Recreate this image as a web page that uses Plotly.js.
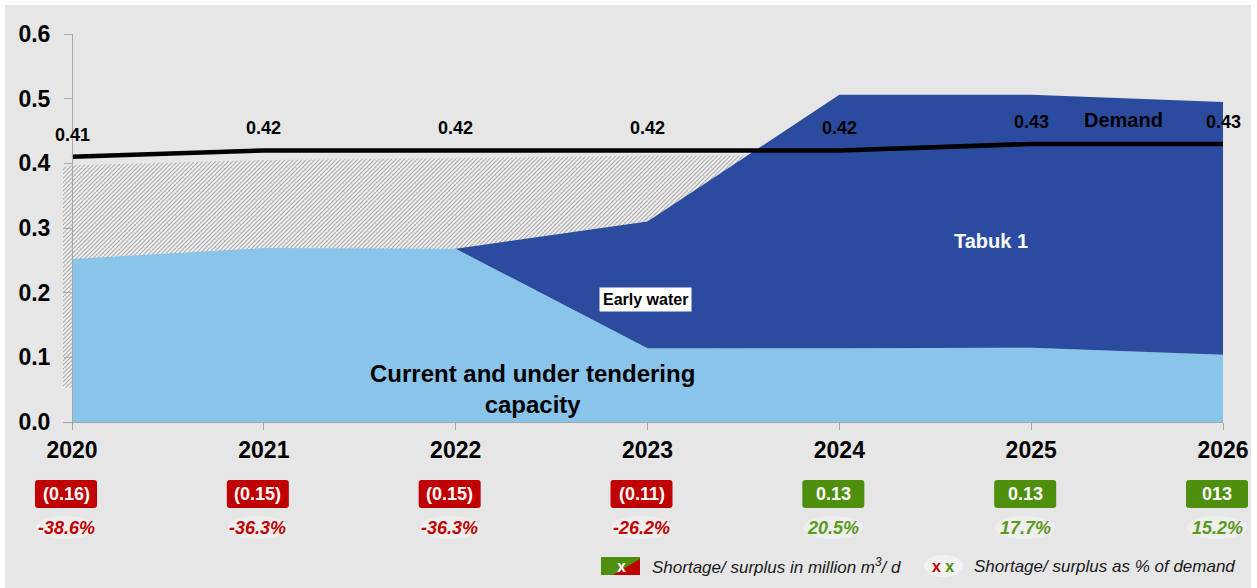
<!DOCTYPE html>
<html><head><meta charset="utf-8">
<script src="https://cdn.plot.ly/plotly-3.0.1.min.js"></script>
<style>html,body{margin:0;padding:0;background:#fff;overflow:hidden}#chart{position:absolute;left:5px;top:5px;width:1246px;height:583px}</style>
</head><body><div id="chart"></div>
<script>
// ---- data ----
const years = [2020, 2021, 2022, 2023, 2024, 2025, 2026];
const yearLabels = ['2020', '2021', '2022', '2023', '2024', '2025', '2026'];
const currentCapacity = [0.252, 0.269, 0.268, 0.114, 0.114, 0.115, 0.104];   // current and under tendering
const newCapacity = [0, 0, 0, 0.196, 0.392, 0.391, 0.391];                  // early water + Tabuk 1
const demand = [0.41, 0.42, 0.42, 0.42, 0.42, 0.43, 0.43];
const demandLabels = ['0.41', '0.42', '0.42', '0.42', '0.42', '0.43', '0.43'];
const gapTop = [0.397, 0.405, 0.408, 0.412];                                 // hatched band top, 2020-2023
const balance = ['(0.16)', '(0.15)', '(0.15)', '(0.11)', '0.13', '0.13', '013'];
const balancePct = ['-38.6%', '-36.3%', '-36.3%', '-26.2%', '20.5%', '17.7%', '15.2%'];
const yTicks = [0, 0.1, 0.2, 0.3, 0.4, 0.5, 0.6];

// ---- geometry / style ----
const FONT = 'Arial, "Liberation Sans", sans-serif';
const W = 1246, H = 583, M = {l: 58, r: 28, t: 29, b: 166};
const plotW = W - M.l - M.r;
const X1 = years[years.length - 1];
const pxPerYear = (plotW - 9) / (X1 - years[0]);
const X0 = years[0] - 9 / pxPerYear;
const xPaper = yr => (yr - X0) / (X1 - X0);
const RED = '#c00000', GREEN = '#4f8f0e', GREEN_TXT = '#5a9a1c';
const GRAY_AX = '#a6a6a6';

// hatched band (shortage): ends where new capacity reaches it
const total = currentCapacity.map((v, i) => v + newCapacity[i]);
const k = gapTop.length - 1;
const lastTop = gapTop[k];
const t = (lastTop - total[k]) / (total[k + 1] - total[k]);
const xi = years[k] + t * (years[k + 1] - years[k]);
const hx = [X0, X0].concat(years.slice(0, gapTop.length), [xi, xi, years[0], years[0]]);
const hy = [0.053, gapTop[0] - 0.003].concat(gapTop, [lastTop, 0, 0, 0.053]);

const traces = [
  {x: hx, y: hy, type: 'scatter', mode: 'none', fill: 'toself', hoverinfo: 'skip', showlegend: false,
   fillcolor: 'rgba(0,0,0,0)',
   fillpattern: {shape: '/', fgcolor: '#9a9a9a', bgcolor: '#f1f1f1', size: 3, solidity: 0.3, fillmode: 'replace'}},
  {x: years, y: currentCapacity, type: 'scatter', mode: 'none', stackgroup: 's', fillcolor: '#89c4ea',
   line: {width: 0}, showlegend: false},
  {x: years, y: newCapacity, type: 'scatter', mode: 'none', stackgroup: 's', fillcolor: '#2b4c9e',
   line: {width: 0}, showlegend: false},
  {x: years, y: demand, type: 'scatter', mode: 'lines', line: {color: '#000', width: 4.5}, showlegend: false}
];

const annotations = [];
const shapes = [];
const ctr = {xanchor: 'center', yanchor: 'middle', showarrow: false};
years.forEach((yr, i) => {
  annotations.push(Object.assign({x: yr, y: demand[i], xref: 'x', yref: 'y', text: '<b>' + demandLabels[i] + '</b>',
    yshift: 22, font: {family: FONT, size: 18, color: '#000'}}, ctr));
  const neg = balancePct[i].trim().startsWith('-');
  const col = neg ? RED : GREEN;
  shapes.push({type: 'path', xref: 'paper', yref: 'paper', xsizemode: 'pixel', ysizemode: 'pixel',
    xanchor: xPaper(yr), yanchor: 0, layer: 'above', fillcolor: col, line: {width: 0},
    path: 'M -34,-86 L 22,-86 Q 25,-86 25,-83 L 25,-61 Q 25,-58 22,-58 L -34,-58 Q -37,-58 -37,-61 L -37,-83 Q -37,-86 -34,-86 Z'});
  shapes.push({type: 'circle', xref: 'paper', yref: 'paper', xsizemode: 'pixel', ysizemode: 'pixel',
    xanchor: xPaper(yr), yanchor: 0, x0: -36, x1: 24, y0: -117, y1: -94, layer: 'above',
    fillcolor: '#eeeeee', line: {width: 0}});
  annotations.push(Object.assign({x: yr, xref: 'x', y: 0, yref: 'paper', xshift: -6, yshift: -72,
    text: '<b>' + balance[i] + '</b>', font: {family: FONT, size: 18, color: '#fff'}}, ctr));
  annotations.push(Object.assign({x: yr, xref: 'x', y: 0, yref: 'paper', xshift: -6, yshift: -106,
    text: '<b><i>' + balancePct[i] + '</i></b>', font: {family: FONT, size: 18, color: neg ? RED : GREEN_TXT}}, ctr));
});

// in-chart labels
annotations.push(Object.assign({x: 2025.48, y: 0.467, xref: 'x', yref: 'y', text: '<b>Demand</b>',
  font: {family: FONT, size: 20, color: '#000'}}, ctr));
annotations.push(Object.assign({x: 2024.79, y: 0.28, xref: 'x', yref: 'y', text: '<b>Tabuk 1</b>',
  font: {family: FONT, size: 20, color: '#fff'}}, ctr));
annotations.push(Object.assign({x: 2022.99, y: 0.189, xref: 'x', yref: 'y', text: '<b>Early water</b>',
  bgcolor: '#fff', borderpad: 3, font: {family: FONT, size: 16, color: '#000'}}, ctr));
annotations.push(Object.assign({x: 2022.40, y: 0.051, xref: 'x', yref: 'y',
  text: '<b>Current and under tendering<br>capacity</b>', font: {family: FONT, size: 24, color: '#000'}}, ctr));

// legend (pixel offsets from plot-area bottom-left corner)
const L = px => px - 63, B = py => 422 - py;
shapes.push({type: 'rect', xref: 'paper', yref: 'paper', xsizemode: 'pixel', ysizemode: 'pixel', xanchor: 0, yanchor: 0,
  x0: L(601), x1: L(640), y0: B(575), y1: B(557), fillcolor: GREEN, line: {width: 0}});
shapes.push({type: 'path', xref: 'paper', yref: 'paper', xsizemode: 'pixel', ysizemode: 'pixel', xanchor: 0, yanchor: 0,
  path: `M ${L(613)},${B(575)} L ${L(640)},${B(559)} L ${L(640)},${B(575)} Z`, fillcolor: RED, line: {width: 0}});
shapes.push({type: 'circle', xref: 'paper', yref: 'paper', xsizemode: 'pixel', ysizemode: 'pixel', xanchor: 0, yanchor: 0,
  x0: L(924), x1: L(963), y0: B(577), y1: B(555), fillcolor: '#f2f2f2', line: {width: 0}});
annotations.push(Object.assign({x: 0, y: 0, xref: 'paper', yref: 'paper', xshift: L(621), yshift: -(566 - 422),
  text: '<b>x</b>', font: {family: FONT, size: 16, color: '#fff'}}, ctr));
annotations.push(Object.assign({x: 0, y: 0, xref: 'paper', yref: 'paper', xshift: L(943), yshift: -(566 - 422),
  text: '<b><span style="color:' + RED + '">x</span><span style="color:#ffffff">/</span><span style="color:' + GREEN + '">x</span></b>',
  font: {family: FONT, size: 16, color: '#000'}}, ctr));
annotations.push(Object.assign({x: 0, y: 0, xref: 'paper', yref: 'paper', xshift: L(650), yshift: -(566 - 422),
  text: '<i>Shortage/ surplus in million m<sup>3</sup>/ d</i>', font: {family: FONT, size: 17, color: '#1a1a1a'}}, ctr, {xanchor: 'left'}));
annotations.push(Object.assign({x: 0, y: 0, xref: 'paper', yref: 'paper', xshift: L(972), yshift: -(566 - 422),
  text: '<i>Shortage/ surplus as % of demand</i>', font: {family: FONT, size: 17, color: '#1a1a1a'}}, ctr, {xanchor: 'left'}));

const layout = {
  width: W, height: H, margin: M,
  paper_bgcolor: '#e6e6e6', plot_bgcolor: '#e6e6e6',
  showlegend: false,
  xaxis: {range: [X0, X1], tickvals: years, ticktext: yearLabels.map(s => '<b>' + s + '</b>'),
    ticks: 'outside', ticklen: 7, tickcolor: GRAY_AX, showline: true, linecolor: GRAY_AX, linewidth: 1,
    showgrid: false, zeroline: false, ticklabelstandoff: 0,
    tickfont: {family: FONT, size: 23, color: '#000'}},
  yaxis: {range: [0, 0.6], tickvals: yTicks, ticktext: yTicks.map(v => '<b>' + v.toFixed(1) + '</b>'),
    anchor: 'free', position: xPaper(years[0]),
    ticks: 'outside', ticklen: 8, tickcolor: GRAY_AX, showline: true, linecolor: GRAY_AX, linewidth: 1,
    showgrid: false, zeroline: false, ticklabelstandoff: 9,
    tickfont: {family: FONT, size: 23, color: '#000'}},
  annotations: annotations,
  shapes: shapes
};

Plotly.newPlot('chart', traces, layout, {displayModeBar: false, staticPlot: true});
</script></body></html>
